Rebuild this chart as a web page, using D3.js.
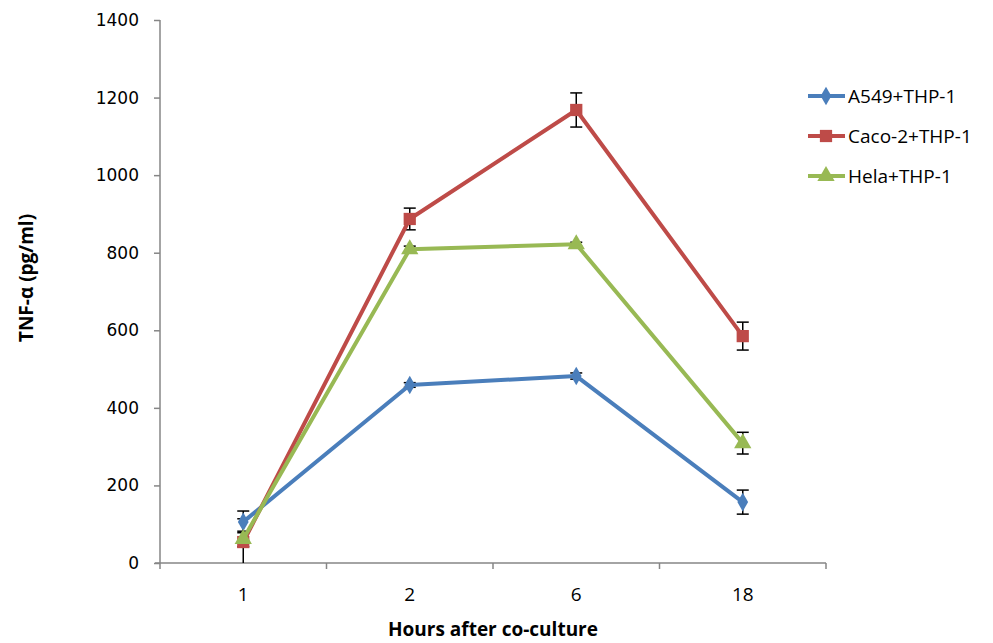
<!DOCTYPE html>
<html>
<head>
<meta charset="utf-8">
<script src="https://cdn.jsdelivr.net/npm/d3@7"></script>
<style>
  body { margin: 0; background: #fff; }
  svg { display: block; }
  text { font-family: "Open Sans", sans-serif; fill: #000; }
  .ytick text { font-family: "DejaVu Sans", sans-serif; font-size: 17px; }
</style>
</head>
<body>
<div id="chart"></div>
<script>
const hours = ['1', '2', '6', '18'];
const seriesNames = ['A549+THP-1', 'Caco-2+THP-1', 'Hela+THP-1'];
const a549 = [106, 459, 482, 157];
const a549Err = [28, 6, 8, 31];
const caco2 = [54, 887, 1168, 585];
const caco2Err = [60, 28, 44, 36];
const hela = [62, 809, 822, 309];
const helaErr = [20, 8, 5, 28];
const yTicks = [0, 200, 400, 600, 800, 1000, 1200, 1400];

const colors = ['#4a7ebb', '#be4b48', '#98b954'];
const symbols = [d3.symbolDiamond, d3.symbolSquare, d3.symbolTriangle];
const symbolSizes = [100, 150, 130];

const series = [
  { name: seriesNames[0], values: a549, err: a549Err },
  { name: seriesNames[1], values: caco2, err: caco2Err },
  { name: seriesNames[2], values: hela, err: helaErr },
];

const width = 993, height = 643;
const margin = { top: 20, left: 160, right: 167, bottom: 80 };
const plotW = width - margin.left - margin.right;
const plotH = height - margin.top - margin.bottom;

const svg = d3.select('#chart').append('svg')
  .attr('width', width)
  .attr('height', height);

const main = svg.append('g')
  .attr('transform', 'translate(' + margin.left + ',' + margin.top + ')');

const x = d3.scaleBand().domain(hours).range([0, plotW]);
const y = d3.scaleLinear().domain([0, 1400]).range([plotH, 0]);

main.append('defs').append('clipPath').attr('id', 'plot-clip')
  .append('rect').attr('x', 0).attr('y', -5).attr('width', plotW).attr('height', plotH + 5);

// y axis
const yAxis = main.append('g').attr('class', 'ytick')
  .call(d3.axisLeft(y).tickValues(yTicks).tickFormat(d3.format('d')).tickSize(6).tickPadding(15));
yAxis.attr('font-family', null).attr('font-size', null);
yAxis.select('.domain').attr('stroke', '#868686').attr('stroke-width', 1.5)
  .attr('d', 'M0,' + plotH + 'V0');
yAxis.selectAll('.tick line').attr('stroke', '#868686').attr('stroke-width', 1.5);

// x axis: ticks at the band boundaries
const xAxisG = main.append('g').attr('transform', 'translate(0,' + plotH + ')');
xAxisG.append('line').attr('x1', -5).attr('x2', plotW)
  .attr('stroke', '#868686').attr('stroke-width', 1.5);
const bounds = hours.map(h => x(h)).concat([plotW]);
xAxisG.selectAll('.xt').data(bounds).enter().append('line')
  .attr('x1', d => d).attr('x2', d => d).attr('y1', 0).attr('y2', 6)
  .attr('stroke', '#868686').attr('stroke-width', 1.5);
xAxisG.selectAll('.xl').data(hours).enter().append('text')
  .attr('x', d => x(d) + x.bandwidth() / 2)
  .attr('y', 38)
  .attr('text-anchor', 'middle')
  .style('font-size', '19px')
  .text(d => d);

// axis titles
svg.append('text')
  .attr('x', margin.left + plotW / 2).attr('y', 636)
  .attr('text-anchor', 'middle')
  .style('font-weight', 'bold').style('font-size', '19px')
  .text('Hours after co-culture');

svg.append('text')
  .attr('transform', 'translate(33,278) rotate(-90)')
  .attr('text-anchor', 'middle')
  .style('font-weight', 'bold').style('font-size', '19px')
  .text('TNF-α (pg/ml)');

const cx = h => x(h) + x.bandwidth() / 2;

// error bars
const errG = main.append('g').attr('clip-path', 'url(#plot-clip)');
series.forEach(s => {
  hours.forEach((h, i) => {
    const lo = y(s.values[i] - s.err[i]);
    const hi = y(s.values[i] + s.err[i]);
    errG.append('line').attr('x1', cx(h)).attr('x2', cx(h)).attr('y1', lo).attr('y2', hi)
      .attr('stroke', '#000').attr('stroke-width', 1.5);
    [lo, hi].forEach(v => {
      errG.append('line').attr('x1', cx(h) - 6).attr('x2', cx(h) + 6).attr('y1', v).attr('y2', v)
        .attr('stroke', '#000').attr('stroke-width', 1.5);
    });
  });
});

const line = d3.line().x((d, i) => cx(hours[i])).y(d => y(d));

series.forEach((s, k) => {
  const g = main.append('g');
  g.append('path').datum(s.values)
    .attr('d', line)
    .attr('fill', 'none')
    .attr('stroke', colors[k])
    .attr('stroke-width', 4)
    .attr('stroke-linejoin', 'round');
  g.selectAll('path.mark').data(s.values).enter().append('path')
    .attr('class', 'mark')
    .attr('transform', (d, i) => 'translate(' + cx(hours[i]) + ',' + y(d) + ')')
    .attr('d', d3.symbol().type(symbols[k]).size(symbolSizes[k]))
    .attr('fill', colors[k]);
});

// legend
const legend = svg.append('g').attr('transform', 'translate(808,96)');
series.forEach((s, k) => {
  const row = legend.append('g').attr('transform', 'translate(0,' + (k * 40) + ')');
  row.append('line').attr('x1', 0).attr('x2', 37).attr('y1', 0).attr('y2', 0)
    .attr('stroke', colors[k]).attr('stroke-width', 4);
  row.append('path').attr('transform', 'translate(18,0)')
    .attr('d', d3.symbol().type(symbols[k]).size(symbolSizes[k]))
    .attr('fill', colors[k]);
  row.append('text').attr('x', 40).attr('y', 7)
    .style('font-size', '19px')
    .text(s.name);
});
</script>
</body>
</html>
